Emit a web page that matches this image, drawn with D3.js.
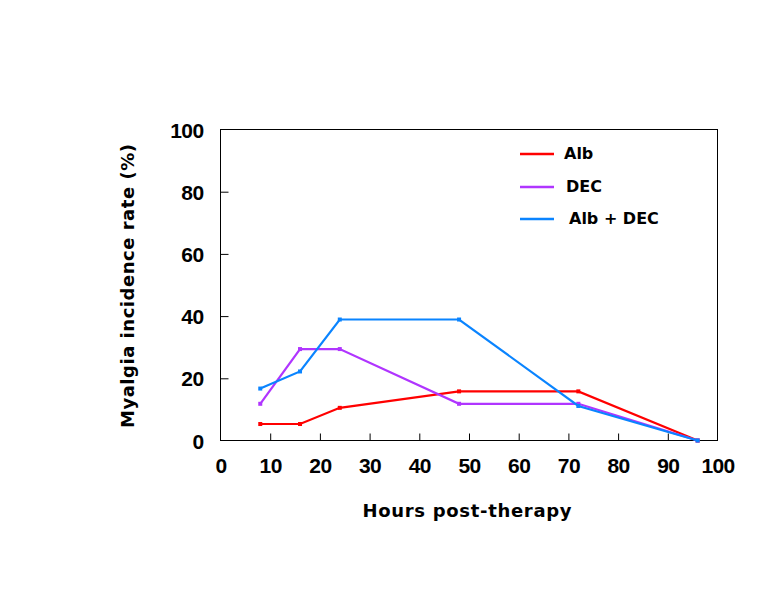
<!DOCTYPE html>
<html>
<head>
<meta charset="utf-8">
<script src="https://cdn.jsdelivr.net/npm/d3@7"></script>
<style>
  body { margin: 0; background: #fff; }
  text { font-weight: bold; fill: #000; }
  .tk text { font-family: "Liberation Sans", Arial, sans-serif; font-size: 21px; }
  .lbl { font-family: "DejaVu Sans", sans-serif; }
</style>
</head>
<body>
<div id="chart"></div>
<script>
var hours = [8, 16, 24, 48, 72, 96];
var alb = [5.3, 5.3, 10.5, 15.8, 15.8, 0];
var dec = [11.8, 29.4, 29.4, 11.8, 11.8, 0];
var albDec = [16.7, 22.2, 38.9, 38.9, 11.1, 0];
var xTicks = [0, 10, 20, 30, 40, 50, 60, 70, 80, 90, 100];
var yTicks = [0, 20, 40, 60, 80, 100];
var seriesNames = ["Alb", "DEC", "Alb + DEC"];
var seriesColors = ["#ff0000", "#b035ff", "#0a84ff"];

var w = 778, h = 600;
var pl = 220.5, pr = 717.5, pt = 129.5, pb = 440.5;

var svg = d3.select("#chart").append("svg")
  .attr("width", w)
  .attr("height", h);

var x = d3.scaleLinear().domain([0, 100]).range([pl, pr]);
var y = d3.scaleLinear().domain([0, 100]).range([pb, pt]);

// frame
svg.append("rect")
  .attr("x", pl).attr("y", pt)
  .attr("width", pr - pl).attr("height", pb - pt)
  .attr("fill", "none").attr("stroke", "#000").attr("stroke-width", 1);

// axes, ticks pointing inward
var xAxis = svg.append("g").attr("class", "tk")
  .attr("transform", "translate(0," + pb + ")")
  .call(d3.axisBottom(x).tickValues(xTicks).tickSizeInner(-7).tickSizeOuter(0).tickPadding(18));
var yAxis = svg.append("g").attr("class", "tk")
  .attr("transform", "translate(" + pl + ",0)")
  .call(d3.axisLeft(y).tickValues(yTicks).tickSizeInner(-8).tickSizeOuter(0).tickPadding(17));

[xAxis, yAxis].forEach(function(a){
  a.select(".domain").remove();
  a.attr("font-family", null).attr("font-size", null);
  a.selectAll("text").style("letter-spacing", "-0.6px");
  a.selectAll("line").attr("stroke", "#000");
  a.selectAll(".tick").filter(function(d){ return d === 0 || d === 100; }).select("line").remove();
});
yAxis.selectAll("text").attr("dy", "0.36em");

var all = [alb, dec, albDec];
var line = d3.line()
  .x(function(d, i){ return x(hours[i]); })
  .y(function(d){ return y(d); });

all.forEach(function(vals, k){
  svg.append("path")
    .datum(vals)
    .attr("d", line)
    .attr("fill", "none")
    .attr("stroke", seriesColors[k])
    .attr("stroke-width", 2.2);
  svg.selectAll(".pt" + k)
    .data(vals)
    .enter()
    .append("rect")
    .attr("x", function(d, i){ return x(hours[i]) - 2; })
    .attr("y", function(d){ return y(d) - 2; })
    .attr("width", 4)
    .attr("height", 4)
    .attr("fill", seriesColors[k]);
});

// legend
var legY = [154, 187, 219];
var legTextX = [564, 566, 569];
seriesNames.forEach(function(name, k){
  svg.append("line")
    .attr("x1", 520).attr("x2", 554)
    .attr("y1", legY[k]).attr("y2", legY[k])
    .attr("stroke", seriesColors[k]).attr("stroke-width", 2.5);
  svg.append("text")
    .attr("class", "lbl")
    .attr("x", legTextX[k]).attr("y", legY[k] + 5)
    .style("font-size", "16px")
    .text(name);
});

// axis titles
svg.append("text")
  .attr("class", "lbl")
  .attr("x", 467).attr("y", 517)
  .attr("text-anchor", "middle")
  .attr("textLength", 209)
  .style("font-size", "18px")
  .text("Hours post-therapy");

svg.append("text")
  .attr("class", "lbl")
  .attr("transform", "translate(134,286) rotate(-90)")
  .attr("text-anchor", "middle")
  .attr("textLength", 284)
  .style("font-size", "18px")
  .text("Myalgia incidence rate (%)");
</script>
</body>
</html>
